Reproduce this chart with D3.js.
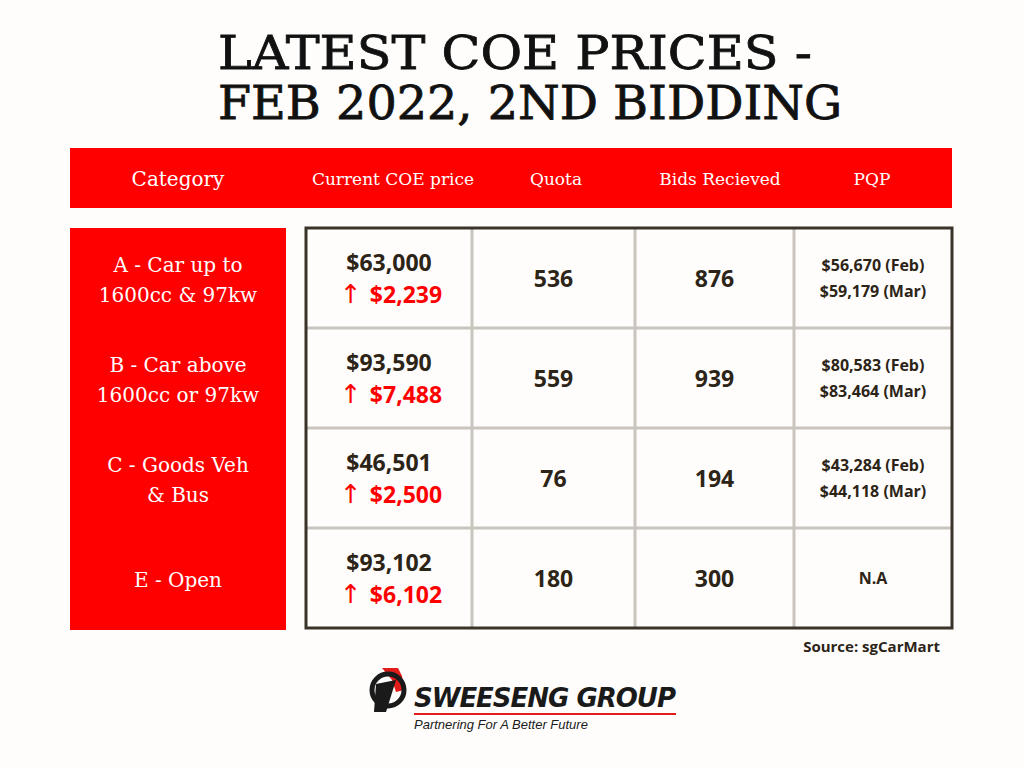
<!DOCTYPE html>
<html><head><meta charset="utf-8">
<script src="https://cdn.jsdelivr.net/npm/d3@7"></script>
<style>body{margin:0;background:#fefdfb}</style></head>
<body><svg id="c" width="1024" height="768"></svg>
<script>
const headers=["Category","Current COE price","Quota","Bids Recieved","PQP"];
const categories=[["A - Car up to","1600cc & 97kw"],["B - Car above","1600cc or 97kw"],["C - Goods Veh","& Bus"],["E - Open"]];
const prices=["$63,000","$93,590","$46,501","$93,102"];
const changes=["$2,239","$7,488","$2,500","$6,102"];
const quota=[536,559,76,180];
const bids=[876,939,194,300];
const pqp=[["$56,670 (Feb)","$59,179 (Mar)"],["$80,583 (Feb)","$83,464 (Mar)"],["$43,284 (Feb)","$44,118 (Mar)"],["N.A"]];

const svg=d3.select("#c");
svg.append("rect").attr("width",1024).attr("height",768).attr("fill","#fefdfb");
const serif="'DejaVu Serif', 'Liberation Serif', serif", sans="'Open Sans','Noto Sans',sans-serif";
const title=["LATEST COE PRICES -","FEB 2022, 2ND BIDDING"];
const tlen=[594,624];
svg.selectAll(".t").data(title).join("text").attr("x",218).attr("y",(d,i)=>53+i*50)
 .attr("font-family",serif).attr("font-size",46).attr("fill","#111").attr("font-weight",400)
 .attr("stroke","#111").attr("stroke-width",0.8)
 .attr("textLength",(d,i)=>tlen[i]).attr("lengthAdjust","spacingAndGlyphs")
 .attr("dominant-baseline","central").text(d=>d);

svg.append("rect").attr("x",70).attr("y",148).attr("width",882).attr("height",60).attr("fill","#ff0000");
const hx=[178,393,556,720,872];
svg.selectAll(".h").data(headers).join("text").attr("x",(d,i)=>hx[i]).attr("y",179)
 .attr("text-anchor","middle").attr("dominant-baseline","central").attr("font-family",serif)
 .attr("font-size",(d,i)=>i==0?20:17).attr("fill","#fff").text(d=>d);

const y=d3.scaleBand().domain(d3.range(4)).range([228,628]);
const colEdges=[306,472,635,794,952];
svg.append("rect").attr("x",70).attr("y",228).attr("width",216).attr("height",402).attr("fill","#ff0000");
categories.forEach((c,i)=>{
  const cy=y(i)+y.bandwidth()/2+2;
  c.forEach((l,j)=>svg.append("text").attr("x",178).attr("y",cy+(j-(c.length-1)/2)*30)
   .attr("text-anchor","middle").attr("dominant-baseline","central").attr("font-family",serif)
   .attr("font-size",20).attr("fill","#fff").text(l));
});
const g=svg.append("g");
d3.range(1,4).forEach(i=>g.append("line").attr("x1",306).attr("x2",952).attr("y1",y(i)).attr("y2",y(i)).attr("stroke","#c9c5be").attr("stroke-width",3));
colEdges.slice(1,4).forEach(x=>g.append("line").attr("x1",x).attr("x2",x).attr("y1",228).attr("y2",628).attr("stroke","#c9c5be").attr("stroke-width",3));
g.append("rect").attr("x",306).attr("y",228).attr("width",646).attr("height",400).attr("fill","none").attr("stroke","#3a3328").attr("stroke-width",3);

const cx=i=>(colEdges[i]+colEdges[i+1])/2;
const dark="#2d2418";
d3.range(4).forEach(i=>{
  const cy=y(i)+y.bandwidth()/2;
  svg.append("text").attr("x",cx(0)).attr("y",cy-16).attr("text-anchor","middle").attr("dominant-baseline","central")
   .attr("font-family",sans).attr("font-weight",700).attr("font-size",23).attr("fill",dark).text(prices[i]);
  const t=svg.append("text").attr("x",cx(0)+2).attr("y",cy+16).attr("text-anchor","middle").attr("dominant-baseline","central")
   .attr("font-family",sans).attr("font-weight",700).attr("font-size",23).attr("fill","#ff0000");
  t.append("tspan").attr("font-family","'DejaVu Sans',sans-serif").attr("font-weight",400).attr("font-size",26).text("↑ ");
  t.append("tspan").text(changes[i]);
  svg.append("text").attr("x",cx(1)).attr("y",cy).attr("text-anchor","middle").attr("dominant-baseline","central")
   .attr("font-family",sans).attr("font-weight",700).attr("font-size",23).attr("fill",dark).text(quota[i]);
  svg.append("text").attr("x",cx(2)).attr("y",cy).attr("text-anchor","middle").attr("dominant-baseline","central")
   .attr("font-family",sans).attr("font-weight",700).attr("font-size",23).attr("fill",dark).text(bids[i]);
  pqp[i].forEach((l,j)=>svg.append("text").attr("x",cx(3)).attr("y",cy+(j-(pqp[i].length-1)/2)*26)
   .attr("text-anchor","middle").attr("dominant-baseline","central").attr("font-family",sans).attr("font-weight",700)
   .attr("font-size",16).attr("fill",dark).text(l));
});
svg.append("text").attr("x",940).attr("y",646).attr("text-anchor","end").attr("dominant-baseline","central")
 .attr("font-family",sans).attr("font-weight",700).attr("font-size",15).attr("fill",dark).text("Source: sgCarMart");

const lg=svg.append("g");
lg.append("path").attr("d","M382,668 L398,668 L402,676 L404,690 L396,692 L392,680 Z").attr("fill","#e21b1b");
lg.append("circle").attr("cx",388).attr("cy",690).attr("r",16).attr("fill","none").attr("stroke","#1a1a1a").attr("stroke-width",5);
lg.append("path").attr("d","M376,684 L396,680 L386,712 L374,712 Z").attr("fill","#1a1a1a");
lg.append("text").attr("x",414).attr("y",707).attr("font-family","'DejaVu Sans',sans-serif").attr("font-weight",700)
 .attr("font-style","italic").attr("font-size",26).attr("fill","#1a1a1a").attr("textLength",262).text("SWEESENG GROUP");
lg.append("line").attr("x1",414).attr("x2",676).attr("y1",714).attr("y2",714).attr("stroke","#e21b1b").attr("stroke-width",2);
lg.append("text").attr("x",414).attr("y",729).attr("font-family","'Liberation Sans',sans-serif").attr("font-style","italic")
 .attr("font-size",13).attr("fill","#1a1a1a").text("Partnering For  A Better Future");
</script></body></html>
